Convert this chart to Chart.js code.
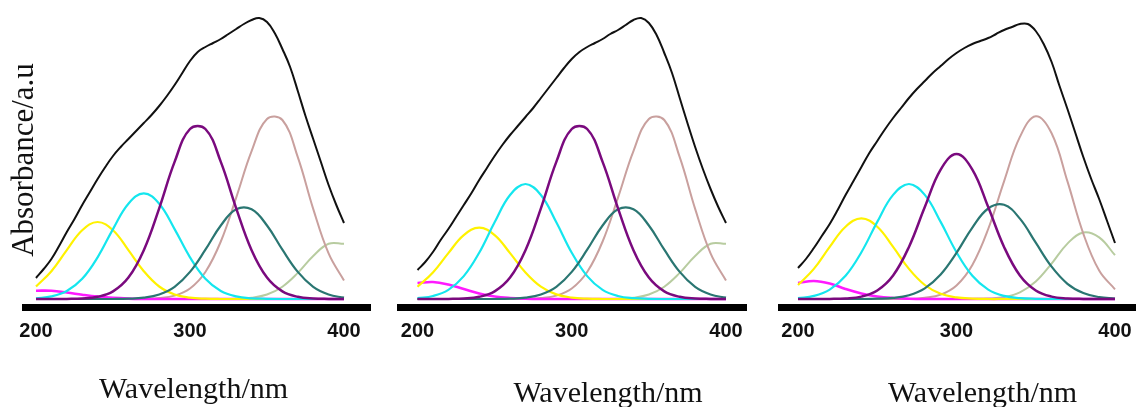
<!DOCTYPE html>
<html><head><meta charset="utf-8">
<script src="https://cdn.jsdelivr.net/npm/chart.js@4.4.1/dist/chart.umd.min.js"></script>
<style>
html,body{margin:0;padding:0;background:#fff;overflow:hidden;width:1136px;height:407px;}
.p{position:absolute;top:0;}
canvas{display:block;}
</style></head><body>
<div class="p" style="left:0px"><canvas id="c1" width="387" height="407"></canvas></div>
<div class="p" style="left:380px"><canvas id="c2" width="456" height="420"></canvas></div>
<div class="p" style="left:760px"><canvas id="c3" width="445" height="420"></canvas></div>
<script>
// wavelengths (nm)
const WL10 = [200,210,220,230,240,250,260,270,280,290,300,310,320,330,340,350,360,370,380,390,400];
const WL5 = [200,205,210,215,220,225,230,235,240,245,250,255,260,265,270,275,280,285,290,295,300,305,310,315,320,325,330,335,340,345,350,355,360,365,370,375,380,385,390,395,400];
const X_TICKS = [200,300,400];
const X_TITLE = 'Wavelength/nm';
const Y_TITLE = 'Absorbance/a.u';

// Panel 1
const p1Black   = [.21,.30,.40,.53,.67,.80,.94,1.07,1.20,1.32,1.43,1.52,1.60,1.68,1.76,1.84,1.93,2.03,2.14,2.26,2.38,2.47,2.52,2.56,2.60,2.65,2.70,2.75,2.79,2.81,2.77,2.66,2.50,2.32,2.08,1.83,1.60,1.37,1.14,.94,.76];
const p1Magenta = [.083,.082,.065,.043,.024,.011,.004,.001,0,0,0,0,0,0,0,0,0,0,0,0,0];
const p1Yellow  = [.125,.278,.489,.688,.77,.688,.489,.278,.125,.045,.013,.003,0,0,0,0,0,0,0,0,0];
const p1Cyan    = [.007,.026,.08,.202,.417,.699,.953,1.057,.953,.699,.417,.202,.08,.026,.007,.002,0,0,0,0,0];
const p1Purple  = [0,0,.001,.005,.022,.076,.214,.488,.907,1.371,1.70,1.70,1.371,.907,.488,.214,.076,.022,.005,.001,0];
const p1Teal    = [0,0,0,0,0,0,.003,.013,.045,.122,.271,.493,.735,.897,.897,.735,.493,.271,.122,.045,.013];
const p1Rosy    = [0,0,0,0,0,0,0,.002,.009,.034,.105,.27,.575,1.014,1.479,1.80,1.79,1.418,.901,.456,.184];
const p1Olive   = [0,0,0,0,0,0,0,0,0,0,0,0,.001,.003,.013,.045,.123,.261,.43,.552,.552];

// Panel 2
const p2Black   = [.29,.37,.47,.59,.70,.82,.94,1.06,1.19,1.31,1.43,1.54,1.64,1.73,1.82,1.91,2.01,2.11,2.21,2.31,2.40,2.47,2.52,2.56,2.60,2.65,2.69,2.74,2.79,2.81,2.76,2.64,2.46,2.26,2.01,1.76,1.52,1.30,1.10,.92,.76];
const p2Magenta = [.16,.17,.145,.10,.055,.025,.01,.003,0,0,0,0,0,0,0,0,0,0,0,0,0];
const p2Yellow  = [.123,.265,.459,.639,.713,.639,.459,.265,.123,.046,.014,.003,0,0,0,0,0,0,0,0,0];
const p2Cyan    = [.008,.03,.092,.229,.463,.768,1.04,1.15,1.04,.768,.463,.229,.092,.03,.008,.002,0,0,0,0,0];
const p2Purple  = [0,0,.001,.005,.022,.076,.214,.488,.907,1.371,1.70,1.70,1.371,.907,.488,.214,.076,.022,.005,.001,0];
const p2Teal    = [0,0,0,0,0,0,.003,.013,.045,.122,.271,.493,.735,.897,.897,.735,.493,.271,.122,.045,.013];
const p2Rosy    = [0,0,0,0,0,0,0,.002,.009,.034,.105,.27,.575,1.014,1.479,1.80,1.79,1.418,.901,.456,.184];
const p2Olive   = [0,0,0,0,0,0,0,0,0,0,0,0,.001,.003,.013,.045,.123,.261,.43,.552,.552];

// Panel 3
const p3Black   = [.31,.40,.51,.63,.75,.89,1.04,1.18,1.32,1.46,1.58,1.70,1.81,1.91,2.01,2.10,2.18,2.26,2.33,2.40,2.46,2.51,2.55,2.58,2.61,2.65,2.69,2.72,2.75,2.75,2.68,2.55,2.37,2.13,1.90,1.66,1.42,1.20,1.00,.78,.56];
const p3Magenta = [.16,.18,.155,.10,.055,.025,.01,.003,0,0,0,0,0,0,0,0,0,0,0,0,0];
const p3Yellow  = [.14,.301,.521,.723,.807,.723,.521,.301,.14,.052,.016,.004,0,0,0,0,0,0,0,0,0];
const p3Cyan    = [.009,.031,.094,.232,.468,.771,1.041,1.15,1.041,.771,.468,.232,.094,.031,.009,.002,0,0,0,0,0];
const p3Purple  = [0,0,.001,.006,.024,.085,.235,.521,.92,1.294,1.45,1.294,.92,.521,.235,.085,.024,.006,.001,0,0];
const p3Teal    = [0,0,0,0,0,.003,.011,.038,.107,.245,.462,.714,.905,.942,.804,.563,.323,.152,.059,.019,.005];
const p3Rosy    = [0,0,0,0,0,0,0,0,.012,.044,.136,.341,.70,1.177,1.621,1.828,1.657,1.176,.654,.284,.097];
const p3Olive   = [0,0,0,0,0,0,0,0,0,0,0,.001,.004,.019,.066,.174,.354,.554,.666,.616,.438];

const COLORS = {black:'#111111', magenta:'#ff1aff', yellow:'#fff200', cyan:'#14e6ee', purple:'#7a0a7e', teal:'#2a7672', rosy:'#c9a09e', olive:'#b8cca0'};

function pts(xs, ys){ return ys.map((y,i)=>({x:xs[i], y:y})); }

function makeChart(id, s, cfg){
  const ds = (data, color, w) => ({data, borderColor:color, borderWidth:w, pointRadius:0, fill:false, tension:0.4});
  const scales = {
    x: {
      type:'linear', min:cfg.xmin, max:cfg.xmax,
      afterBuildTicks: sc => { sc.ticks = X_TICKS.map(v=>({value:v})); },
      afterFit: sc => { sc.height = cfg.xh; },
      grid:{display:false, drawTicks:false},
      border:{display:true, color:'#000', width:7},
      ticks:{padding:14, color:'#111', maxRotation:0, autoSkip:false,
             font:{family:'"Liberation Sans", Arial, sans-serif', size:20, weight:'bold', lineHeight:1}}
    },
    y: {
      type:'linear', position:'left', min:-0.08, max:2.86,
      afterFit: sc => { sc.width = cfg.yw; },
      grid:{display:false, drawTicks:false}, border:{display:false}, ticks:{display:false},
      title:{display:!!cfg.ytitle, text:Y_TITLE, color:'#111',
             font:{family:'"Liberation Serif", "Times New Roman", serif', size:31, lineHeight:1},
             padding:{top:9, bottom:0}}
    }
  };
  if (cfg.rw > 0) {
    scales.yr = {type:'linear', position:'right', min:0, max:1, display:true,
      afterFit: sc => { sc.width = cfg.rw; },
      grid:{display:false, drawTicks:false}, border:{display:false}, ticks:{display:false}};
  }
  return new Chart(document.getElementById(id), {
    type:'line',
    data:{datasets:[
      ds(pts(WL5, s.black), COLORS.black, 2),
      ds(pts(WL10, s.purple), COLORS.purple, 2.5),
      ds(pts(WL10, s.teal), COLORS.teal, 2.2),
      ds(pts(WL10, s.cyan), COLORS.cyan, 2.2),
      ds(pts(WL10, s.yellow), COLORS.yellow, 2.2),
      ds(pts(WL10, s.magenta), COLORS.magenta, 2.6),
      ds(pts(WL10, s.rosy), COLORS.rosy, 2),
      ds(pts(WL10, s.olive), COLORS.olive, 2)
    ]},
    options:{
      responsive:false, animation:false, devicePixelRatio:1,
      layout:{padding:{top:13, left:0, right:0, bottom:0}},
      plugins:{
        legend:{display:false}, tooltip:{enabled:false},
        title:{display:true, text:X_TITLE, position:'bottom', color:'#111',
               font:{family:'"Liberation Serif", "Times New Roman", serif', size:30, weight:'normal', lineHeight:1},
               padding:{top:0, bottom:cfg.tpb}}
      },
      scales
    }
  });
}

makeChart('c1', {black:p1Black, magenta:p1Magenta, yellow:p1Yellow, cyan:p1Cyan, purple:p1Purple, teal:p1Teal, rosy:p1Rosy, olive:p1Olive},
  {xmin:192.86, xmax:416.88, xh:68, yw:25, rw:17, tpb:2, ytitle:true});
makeChart('c2', {black:p2Black, magenta:p2Magenta, yellow:p2Yellow, cyan:p2Cyan, purple:p2Purple, teal:p2Teal, rosy:p2Rosy, olive:p2Olive},
  {xmin:188.65, xmax:412.97, xh:72, yw:20, rw:90, tpb:11, ytitle:false});
makeChart('c3', {black:p3Black, magenta:p3Magenta, yellow:p3Yellow, cyan:p3Cyan, purple:p3Purple, teal:p3Teal, rosy:p3Rosy, olive:p3Olive},
  {xmin:189.27, xmax:456.78, xh:72, yw:21, rw:0, tpb:11, ytitle:false});
</script>
</body></html>
